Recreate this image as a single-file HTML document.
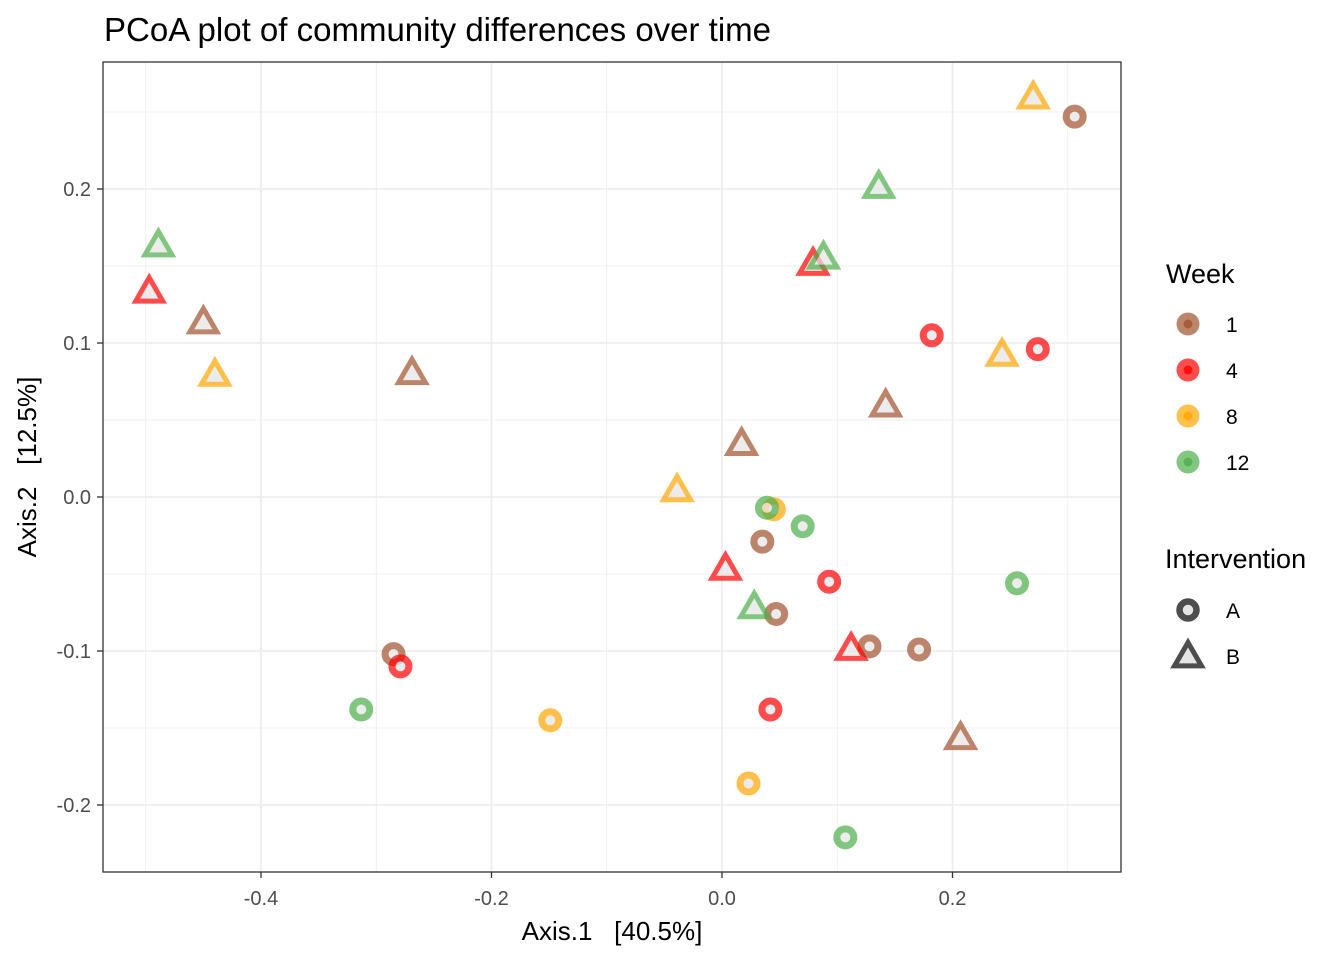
<!DOCTYPE html>
<html><head><meta charset="utf-8"><style>
body{margin:0;background:#fff;font-family:"Liberation Sans",sans-serif;}
text{white-space:pre;}
</style></head><body>
<svg width="1344" height="960" xmlns="http://www.w3.org/2000/svg" font-family="Liberation Sans, sans-serif">
<text x="104" y="41" font-size="33" fill="#000">PCoA plot of community differences over time</text>
<g id="grid"></g>
<g id="marks"></g>
<rect x="103" y="62" width="1018" height="810" fill="none" stroke="#333" stroke-width="1.3"/>
<g id="axes"></g>
<text x="612" y="940" font-size="26" text-anchor="middle" xml:space="preserve">Axis.1   [40.5%]</text>
<text transform="translate(36,467) rotate(-90)" font-size="26" text-anchor="middle" xml:space="preserve">Axis.2   [12.5%]</text>
<g id="legend"></g>
</svg>
<script>
const xTicks=[-0.4,-0.2,0.0,0.2];
const xTickLabels=["-0.4","-0.2","0.0","0.2"];
const yTicks=[-0.2,-0.1,0.0,0.1,0.2];
const yTickLabels=["-0.2","-0.1","0.0","0.1","0.2"];
const xMinor=[-0.5,-0.3,-0.1,0.1,0.3];
const yMinor=[-0.15,-0.05,0.05,0.15,0.25];
const weeks=["1","4","8","12"];
const weekColors=["#a0522d","#ff0000","#ffa500","#4daf4a"];
const interventions=["A","B"];
const ptX=[0.306,0.035,0.047,0.128,0.171,-0.285, 0.182,0.274,0.093,-0.279,0.042, 0.045,-0.149,0.023, 0.039,0.070,0.256,-0.313,0.107,
 -0.450,-0.269,0.017,0.142,0.207, -0.497,0.079,0.003,0.112, 0.270,-0.440,0.243,-0.039, -0.489,0.136,0.088,0.028];
const ptY=[0.247,-0.029,-0.076,-0.097,-0.099,-0.102, 0.105,0.096,-0.055,-0.110,-0.138, -0.008,-0.145,-0.186, -0.007,-0.019,-0.056,-0.138,-0.221,
 0.113,0.080,0.034,0.059,-0.157, 0.133,0.151,-0.047,-0.099, 0.259,0.079,0.092,0.004, 0.163,0.201,0.155,-0.072];
const ptWeek=["1","1","1","1","1","1","4","4","4","4","4","8","8","8","12","12","12","12","12",
 "1","1","1","1","1","4","4","4","4","8","8","8","8","12","12","12","12"];
const ptInt=["A","A","A","A","A","A","A","A","A","A","A","A","A","A","A","A","A","A","A",
 "B","B","B","B","B","B","B","B","B","B","B","B","B","B","B","B","B"];
const NS="http://www.w3.org/2000/svg";
const L=103,R=1121,T=62,B=872;
const sx=v=>722+v*1152.5, sy=v=>497-v*1540;
function mk(tag,at,parent){const e=document.createElementNS(NS,tag);for(const k in at)e.setAttribute(k,at[k]);parent.appendChild(e);return e;}
const grid=document.getElementById('grid');
xMinor.forEach(v=>{const e=mk('line',{x1:sx(v),x2:sx(v),y1:T,y2:B,stroke:'#ebebeb','stroke-width':0.8},grid);

});
yMinor.forEach(v=>{const e=mk('line',{x1:L,x2:R,y1:sy(v),y2:sy(v),stroke:'#ebebeb','stroke-width':0.8},grid);

});
xTicks.forEach(v=>{const e=mk('line',{x1:sx(v),x2:sx(v),y1:T,y2:B,stroke:'#ebebeb','stroke-width':1.6},grid);

});
yTicks.forEach(v=>{const e=mk('line',{x1:L,x2:R,y1:sy(v),y2:sy(v),stroke:'#ebebeb','stroke-width':1.6},grid);

});
const axes=document.getElementById('axes');
xTicks.forEach((v,i)=>{mk('line',{x1:sx(v),x2:sx(v),y1:B,y2:B+6,stroke:'#333','stroke-width':1.3},axes);
const t=mk('text',{x:sx(v),y:B+33,'font-size':20,fill:'#4d4d4d','text-anchor':'middle'},axes);t.textContent=xTickLabels[i];

});
yTicks.forEach((v,i)=>{mk('line',{x1:L-6,x2:L,y1:sy(v),y2:sy(v),stroke:'#333','stroke-width':1.3},axes);
const t=mk('text',{x:L-12,y:sy(v)+7,'font-size':20,fill:'#4d4d4d','text-anchor':'end'},axes);t.textContent=yTickLabels[i];

});
function tri(cx,cy,s){const h=s*0.866;return `${cx},${cy-h*0.62} ${cx-s/2},${cy+h*0.38} ${cx+s/2},${cy+h*0.38}`;}
const marks=document.getElementById('marks');
ptX.forEach((v,i)=>{const c=weekColors[weeks.indexOf(ptWeek[i])];const x=sx(v),y=sy(ptY[i]);
const g=mk('g',{opacity:0.7},marks);


if(ptInt[i]==='A'){mk('circle',{cx:x,cy:y,r:8.5,fill:'#e5e5e5',stroke:c,'stroke-width':7},g);}
else{mk('polygon',{points:tri(x,y,27),fill:'#e5e5e5',stroke:c,'stroke-width':5,'stroke-linejoin':'miter'},g);}
});
const lg=document.getElementById('legend');
let t=mk('text',{x:1166,y:283,'font-size':27},lg);t.textContent='Week';


weeks.forEach((w,i)=>{const y=324+i*46;const g=mk('g',{},lg);


mk('circle',{cx:1188,cy:y,r:11.5,fill:weekColors[i],opacity:0.7},g);
mk('circle',{cx:1188,cy:y,r:4.5,fill:weekColors[i],opacity:0.8},g);
const tt=mk('text',{x:1226,y:y+8,'font-size':21},g);tt.textContent=w;});
t=mk('text',{x:1165,y:568,'font-size':27},lg);t.textContent='Intervention';


interventions.forEach((w,i)=>{const y=610+i*46;const g=mk('g',{},lg);


if(i===0)mk('circle',{cx:1188,cy:y,r:8.5,fill:'#e5e5e5',stroke:'#4d4d4d','stroke-width':6.5},g);
else mk('polygon',{points:tri(1188,y+1,27),fill:'#e5e5e5',stroke:'#4d4d4d','stroke-width':5},g);
const tt=mk('text',{x:1226,y:y+8,'font-size':21},g);tt.textContent=w;});
</script>
</body></html>
